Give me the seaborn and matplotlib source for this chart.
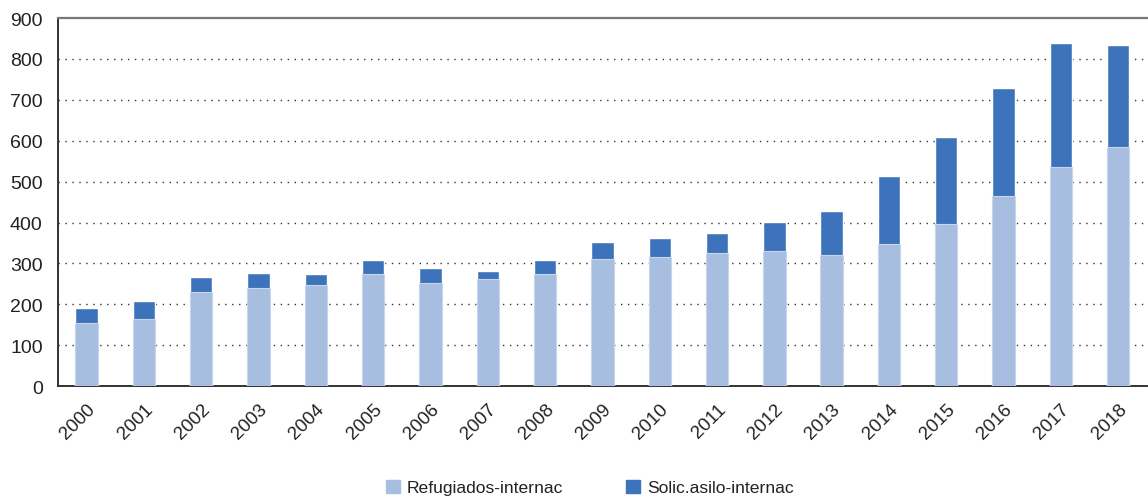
"""
Refugiados y solicitantes de asilo internacionales, 2000-2018
"""

import matplotlib.pyplot as plt
import matplotlib.patches as mpatches
import seaborn as sns
import pandas as pd
import numpy as np


# Data
years = [str(y) for y in range(2000, 2019)]
refugiados = [155, 165, 229, 240, 246, 273, 251, 261, 273, 310,
              315, 326, 331, 321, 348, 396, 466, 535, 584]
solicitantes = [36, 42, 38, 37, 27, 36, 37, 21, 35, 42,
                48, 48, 70, 107, 165, 214, 262, 305, 251]

# Colours and font
light = '#a7bee0'
dark = '#3d73ba'
text_color = '#222222'


def main():
    df = pd.DataFrame({'Year': years,
                       'Refugiados': refugiados,
                       'Solicitantes': solicitantes})
    df['Total'] = df['Refugiados'] + df['Solicitantes']

    sns.set_style('white')
    plt.rcParams['font.family'] = ['Liberation Sans', 'DejaVu Sans']

    fig = plt.figure(figsize=(11.48, 5.02), dpi=100)
    ax = fig.add_axes([0.0505, 0.229, 0.9485, 0.733])

    # Stacked bars: total in dark, refugiados drawn over it in light
    sns.barplot(x='Year', y='Total', data=df, color=dark, width=0.39,
                saturation=1, ax=ax, zorder=3)
    sns.barplot(x='Year', y='Refugiados', data=df, color=light, width=0.39,
                saturation=1, ax=ax, zorder=4, edgecolor='#c8d6ec',
                linewidth=0.8)

    # Axes
    ax.set_xlim(-0.5, len(years) - 0.5)
    ax.set_ylim(0, 900)
    ax.set_yticks(np.arange(0, 1000, 100))
    ax.set_xlabel('')
    ax.set_ylabel('')

    # Dotted grid lines
    for v in range(100, 900, 100):
        ax.axhline(v, color='#333333', linestyle=(0, (1, 4)),
                   linewidth=1.0, zorder=1)

    # Spines
    for side in ['left', 'bottom']:
        ax.spines[side].set_color('#333333')
        ax.spines[side].set_linewidth(1.4)
    ax.spines['top'].set_color('#777777')
    ax.spines['top'].set_linewidth(1.6)
    ax.spines['right'].set_visible(False)

    # Ticks
    ax.tick_params(axis='y', length=6, width=1.2, color='#333333',
                   labelsize=14, labelcolor=text_color, pad=5)
    ax.tick_params(axis='x', which='major', length=0, labelsize=13.5,
                   labelcolor=text_color, pad=10)
    ax.set_xticks(np.arange(-0.5, len(years), 1), minor=True)
    ax.tick_params(axis='x', which='minor', length=7, width=1.2,
                   color='#333333', direction='out')
    for lab in ax.get_xticklabels():
        lab.set_rotation(45)
        lab.set_ha('right')
        lab.set_rotation_mode('anchor')

    # Legend
    handles = [mpatches.Patch(color=light, label='Refugiados-internac'),
               mpatches.Patch(color=dark, label='Solic.asilo-internac')]
    fig.legend(handles=handles, loc='center', bbox_to_anchor=(0.514, 0.027),
               ncol=2, frameon=False, fontsize=12.6, handlelength=0.78,
               handleheight=0.78, handletextpad=0.4, columnspacing=3.6,
               labelcolor=text_color)

    fig.savefig('out.png', dpi=100, facecolor='white')


if __name__ == '__main__':
    main()
